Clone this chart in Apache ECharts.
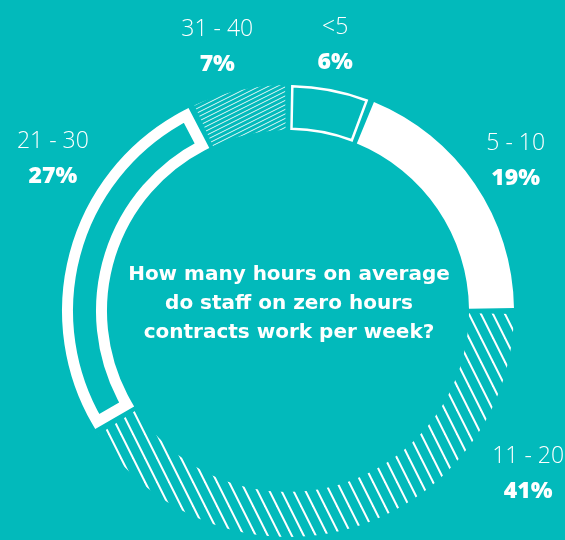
<!DOCTYPE html>
<html>
<head>
<meta charset="utf-8">
<script src="https://cdn.jsdelivr.net/npm/echarts@6/dist/echarts.min.js"></script>
<style>
  html, body { margin: 0; padding: 0; background: #02babb; }
  #chart { width: 565px; height: 540px; }
</style>
</head>
<body>
<div id="chart"></div>
<script>
// Hours worked per week by staff on zero hours contracts (share of respondents, %)
const categories = ['<5', '5 - 10', '11 - 20', '21 - 30', '31 - 40'];
const shares = [6, 19, 41, 27, 7];
const question = ['How many hours on average', 'do staff on zero hours', 'contracts work per week?'];

// ---- look & layout ----
const TEAL = '#02babb';
const WHITE = '#ffffff';
const CENTER = [288, 311];
const R_IN = 181;
const R_OUT = 226;
const GAP = 1.5;                 // degrees between segments
const MID_R = (R_IN + R_OUT) / 2;
const toDeg = 180 / Math.PI;

// how each band is painted
const bandLook = {
  '<5': 'thinOutline',
  '5 - 10': 'solid',
  '11 - 20': 'wideHatch',
  '21 - 30': 'thickOutline',
  '31 - 40': 'fineHatch'
};

// label anchors: ring radius plus an optional turn (degrees) from the band's middle
const labelRing = 272;
const labelDrop = 2;
const labelNudge = {
  '<5': { turn: -0.8 },
  '5 - 10': { turn: 0.4, ring: 274 },
  '31 - 40': { turn: -2.3, ring: 275 },
  '21 - 30': { turn: 17, ring: 281 },
  '11 - 20': { turn: -40, ring: 289 }
};

// seamless stripe tiles
function wideHatchTile() {
  const c = document.createElement('canvas');
  c.width = 12; c.height = 24;
  const g = c.getContext('2d');
  g.strokeStyle = WHITE; g.lineWidth = 2;
  for (let k = -3; k <= 4; k++) {
    g.beginPath();
    g.moveTo(k * 12 - 15, -30);
    g.lineTo(k * 12 + 27, 54);
    g.stroke();
  }
  return c;
}
function fineHatchTile() {
  const c = document.createElement('canvas');
  c.width = 18; c.height = 9;
  const g = c.getContext('2d');
  g.strokeStyle = 'rgba(255,255,255,0.9)'; g.lineWidth = 1;
  for (let k = -4; k <= 8; k++) {
    const b = k * 4.5;
    g.beginPath();
    g.moveTo(-4, b + 2);
    g.lineTo(22, b - 11);
    g.stroke();
  }
  return c;
}
const wideHatch = { image: wideHatchTile(), repeat: 'repeat' };
const fineHatch = { image: fineHatchTile(), repeat: 'repeat' };

const total = shares.reduce((a, b) => a + b, 0);
// clockwise angle from 12 o'clock to the middle of each band
const midAngles = (() => {
  let acc = 0;
  return shares.map(v => { const m = (acc + v / 2) / total * 360; acc += v; return m; });
})();

function fillFor(name) {
  const look = bandLook[name];
  if (look === 'solid') return { color: WHITE, borderWidth: 0 };
  if (look === 'wideHatch') return { color: wideHatch, borderWidth: 0 };
  if (look === 'fineHatch') return { color: fineHatch, borderWidth: 0 };
  return { color: 'transparent', borderWidth: 0 };
}

// outline bands are drawn as their own ring so the stroke stays inside the band
function outlineSeries(look, bw) {
  const inset = bw / 2;
  const extraPad = 2 * (inset / MID_R) * toDeg;
  return {
    type: 'pie',
    silent: true,
    center: CENTER,
    radius: [R_IN + inset, R_OUT - inset],
    startAngle: 90,
    clockwise: true,
    padAngle: GAP + extraPad,
    avoidLabelOverlap: false,
    label: { show: false },
    labelLine: { show: false },
    data: categories.map((name, i) => ({
      name,
      value: shares[i],
      itemStyle: bandLook[name] === look
        ? { color: 'transparent', borderColor: WHITE, borderWidth: bw, borderJoin: 'miter' }
        : { color: 'transparent', borderWidth: 0 }
    }))
  };
}

const chart = echarts.init(document.getElementById('chart'), null, { renderer: 'canvas' });

chart.setOption({
  animation: false,
  backgroundColor: TEAL,
  graphic: [{
    type: 'text',
    x: CENTER[0] + 1,
    y: 304,
    style: {
      text: question.join('\n'),
      fill: WHITE,
      fontFamily: '"DejaVu Sans", sans-serif',
      fontWeight: 'bold',
      fontSize: 20,
      lineHeight: 29,
      align: 'center',
      verticalAlign: 'middle'
    }
  }],
  series: [
    {
      type: 'pie',
      silent: true,
      center: CENTER,
      radius: [R_IN, R_OUT],
      startAngle: 90,
      clockwise: true,
      padAngle: GAP,
      avoidLabelOverlap: false,
      labelLine: { show: false },
      label: {
        show: true,
        position: 'outside',
        formatter: p => '{n|' + p.name + '}\n{p|' + p.value + '%}',
        rich: {
          n: { color: WHITE, fontFamily: '"Open Sans", sans-serif', fontWeight: 300, fontSize: 23, lineHeight: 35 },
          p: { color: WHITE, fontFamily: '"Open Sans", sans-serif', fontWeight: 800, fontSize: 23, lineHeight: 35 }
        }
      },
      labelLayout: p => {
        const name = categories[p.dataIndex];
        const nudge = labelNudge[name] || {};
        const a = (midAngles[p.dataIndex] + (nudge.turn || 0)) / toDeg;
        const r = nudge.ring || labelRing;
        return {
          x: CENTER[0] + r * Math.sin(a),
          y: CENTER[1] - r * Math.cos(a) + labelDrop,
          align: 'center',
          verticalAlign: 'middle'
        };
      },
      data: categories.map((name, i) => ({ name, value: shares[i], itemStyle: fillFor(name) }))
    },
    outlineSeries('thinOutline', 2.5),
    outlineSeries('thickOutline', 11)
  ]
});
</script>
</body>
</html>
